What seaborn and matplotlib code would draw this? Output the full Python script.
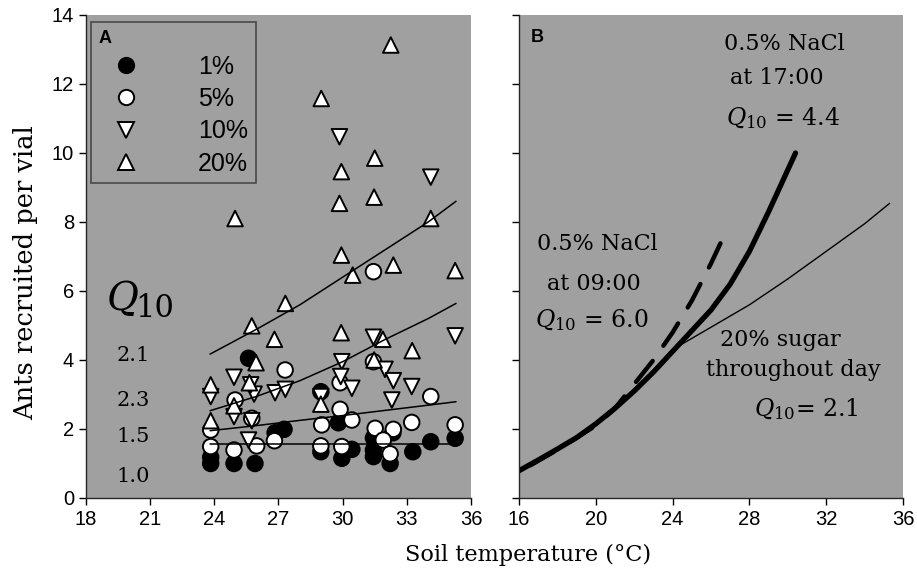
import pandas as pd
import seaborn as sns
import matplotlib.pyplot as plt
from matplotlib.lines import Line2D

# Panel A (temperatura do solo, formigas por frasco)
x_1 = [23.83, 23.83, 24.92, 25.9, 25.6, 28.98, 27.26, 26.84, 29.8, 28.98, 29.96, 30.43,
       31.44, 31.44, 31.44, 32.22, 32.35, 33.28, 34.12, 35.26]
y_1 = [1.18, 1.0, 1.0, 1.0, 4.05, 3.08, 1.99, 1.89, 2.18, 1.34, 1.15, 1.41,
       1.39, 1.2, 1.74, 1.0, 1.89, 1.34, 1.63, 1.73]

x_5 = [31.44, 27.31, 31.44, 29.88, 34.12, 24.97, 29.88, 30.43, 25.75, 29.02, 31.52, 32.37,
       33.23, 35.26, 23.83, 23.83, 24.92, 25.98, 26.81, 28.98, 29.96, 31.9, 32.22]
y_5 = [6.56, 3.71, 3.95, 3.34, 2.94, 2.84, 2.57, 2.26, 2.31, 2.12, 2.02, 1.99,
       2.19, 2.12, 1.97, 1.49, 1.39, 1.51, 1.66, 1.51, 1.49, 1.68, 1.28]

x_10 = [29.85, 34.12, 31.44, 35.26, 29.96, 31.98, 29.91, 32.37, 30.43, 33.23, 32.3, 24.92,
        23.83, 25.86, 26.84, 27.32, 25.7, 28.98, 24.92, 25.75, 25.6]
y_10 = [10.47, 9.3, 4.66, 4.7, 3.95, 3.73, 3.52, 3.4, 3.18, 3.23, 2.84, 3.5,
        2.94, 3.01, 3.05, 3.15, 3.28, 2.94, 2.36, 2.24, 1.68]

x_20 = [32.25, 29.0, 29.94, 31.5, 29.85, 31.47, 34.12, 24.97, 29.94, 30.47, 32.37, 35.26,
        27.32, 25.75, 26.81, 29.93, 31.88, 33.25, 25.95, 23.83, 25.64, 24.92, 28.98, 23.83, 31.47]
y_20 = [13.13, 11.58, 9.46, 9.85, 8.54, 8.72, 8.1, 8.1, 7.04, 6.46, 6.75, 6.59,
        5.64, 4.99, 4.6, 4.79, 4.6, 4.27, 3.92, 3.28, 3.34, 2.67, 2.72, 2.24, 4.0]

# curvas ajustadas do painel A
fit_x = [23.8, 26.0, 28.0, 30.0, 32.0, 34.0, 35.3]
fit_1 = [1.57, 1.57, 1.57, 1.57, 1.57, 1.57, 1.57]
fit_5 = [1.95, 2.1, 2.25, 2.39, 2.54, 2.69, 2.79]
fit_10 = [2.53, 2.95, 3.4, 3.95, 4.6, 5.2, 5.64]
fit_20 = [4.17, 4.9, 5.6, 6.4, 7.2, 8.0, 8.6]

q10_A = ['2.1', '2.3', '1.5', '1.0']
q10_A_y = [4.12, 2.84, 1.77, 0.61]

# Panel B - curvas
nacl17_x = [16, 17, 18, 19, 20, 21, 22, 23, 24, 25, 26, 27, 28, 29, 30.4]
nacl17_y = [0.79, 1.1, 1.42, 1.75, 2.15, 2.6, 3.1, 3.65, 4.25, 4.85, 5.45, 6.2, 7.15, 8.3, 10.0]
nacl09_x = [16.6, 18, 20, 21, 22, 23, 24, 25, 26, 26.8]
nacl09_y = [0.95, 1.4, 2.1, 2.6, 3.3, 4.0, 4.8, 5.72, 6.8, 7.75]
sugar_x = [16, 18, 20, 22, 24.3, 26, 28, 30, 32, 34, 35.3]
sugar_y = [0.79, 1.42, 2.15, 3.1, 4.4, 4.95, 5.6, 6.35, 7.15, 7.95, 8.54]

groups = ['1%', '5%', '10%', '20%']
df = pd.concat([
    pd.DataFrame({'temp': x_1, 'ants': y_1, 'grupo': '1%'}),
    pd.DataFrame({'temp': x_5, 'ants': y_5, 'grupo': '5%'}),
    pd.DataFrame({'temp': x_10, 'ants': y_10, 'grupo': '10%'}),
    pd.DataFrame({'temp': x_20, 'ants': y_20, 'grupo': '20%'}),
], ignore_index=True)

fits = pd.concat([
    pd.DataFrame({'temp': fit_x, 'ants': f, 'grupo': g})
    for g, f in zip(groups, [fit_1, fit_5, fit_10, fit_20])
], ignore_index=True)

sns.set_style('ticks')
plt.rcParams['font.family'] = ['Liberation Sans', 'DejaVu Sans']
plt.rcParams['mathtext.fontset'] = 'dejavuserif'
plt.rcParams['text.color'] = 'black'
plt.rcParams['axes.labelcolor'] = 'black'
plt.rcParams['xtick.color'] = 'black'
plt.rcParams['ytick.color'] = 'black'
gray = '#a0a0a0'
serif = 'DejaVu Serif'

fig = plt.figure(figsize=(9.17, 5.72), dpi=100)
axA = fig.add_axes([0.0938, 0.1294, 0.4198, 0.8444])
axB = fig.add_axes([0.566, 0.1294, 0.4188, 0.8444])

palette = {'1%': 'black', '5%': 'white', '10%': 'white', '20%': 'white'}
markers = {'1%': 'o', '5%': 'o', '10%': 'v', '20%': '^'}

sns.scatterplot(data=df, x='temp', y='ants', hue='grupo', style='grupo',
                palette=palette, markers=markers, hue_order=groups, style_order=groups,
                s=125, edgecolor='black', linewidth=1.4, legend=False, ax=axA, zorder=3)
sns.lineplot(data=fits, x='temp', y='ants', units='grupo', estimator=None,
             color='black', linewidth=1.1, ax=axA, zorder=4)

handles = [Line2D([], [], linestyle='none', marker=markers[g], markersize=11,
                  markerfacecolor=palette[g], markeredgecolor='black', markeredgewidth=1.4)
           for g in groups]
leg = axA.legend(handles, groups, title='A', loc='upper left', bbox_to_anchor=(0.012, 0.985),
                 frameon=True, fancybox=False, facecolor=gray, edgecolor='#333333',
                 fontsize=18, handletextpad=1.8, labelspacing=0.33, borderpad=0.3,
                 borderaxespad=0, handlelength=2.2)
leg.get_frame().set_linewidth(1.2)
leg.get_title().set_fontweight('bold')
leg.get_title().set_fontsize(13)
leg._legend_box.align = 'left'

axA.text(19.73, 5.74, 'Q', family=serif, style='italic', fontsize=28, ha='center', va='center')
axA.text(21.2, 5.5, '10', family=serif, fontsize=22, ha='center', va='center')
for lab, yy in zip(q10_A, q10_A_y):
    axA.text(20.2, yy, lab, family=serif, fontsize=15, ha='center', va='center')

axA.set_xlim(18, 36)
axA.set_ylim(0, 14)
axA.set_xticks(range(18, 37, 3))
axA.set_yticks(range(0, 15, 2))
axA.set_xlabel('')
axA.set_ylabel('Ants recruited per vial', family=serif, fontsize=18.5)
axA.yaxis.set_label_coords(-0.125, 0.466)

sns.lineplot(x=sugar_x, y=sugar_y, color='black', linewidth=1.0, ax=axB)
sns.lineplot(x=nacl09_x, y=nacl09_y, color='black', linewidth=3.2, ax=axB)
dashed = axB.lines[-1]
dashed.set_dashes((6, 4.2))
dashed.set_dash_capstyle('round')
sns.lineplot(x=nacl17_x, y=nacl17_y, color='black', linewidth=3.8, ax=axB)
axB.lines[-1].set_solid_capstyle('round')

axB.text(16.6, 13.36, 'B', fontweight='bold', fontsize=13, ha='left', va='center')
axB.text(29.8, 13.16, '0.5% NaCl', family=serif, fontsize=16, ha='center', va='center')
axB.text(29.44, 12.17, 'at 17:00', family=serif, fontsize=16, ha='center', va='center')
axB.text(29.75, 11.0, '$Q_{10}$ = 4.4', family=serif, fontsize=17, ha='center', va='center')
axB.text(20.1, 7.36, '0.5% NaCl', family=serif, fontsize=16, ha='center', va='center')
axB.text(19.9, 6.2, 'at 09:00', family=serif, fontsize=16, ha='center', va='center')
axB.text(19.8, 5.16, '$Q_{10}$ = 6.0', family=serif, fontsize=17, ha='center', va='center')
axB.text(29.6, 4.58, '20% sugar', family=serif, fontsize=16, ha='center', va='center')
axB.text(30.3, 3.71, 'throughout day', family=serif, fontsize=16, ha='center', va='center')
axB.text(30.95, 2.58, '$Q_{10}$= 2.1', family=serif, fontsize=17, ha='center', va='center')

axB.set_xlim(16, 36)
axB.set_ylim(0, 14)
axB.set_xticks(range(16, 37, 4))
axB.set_yticks(range(0, 15, 2))
axB.set_yticklabels([])

for ax in (axA, axB):
    ax.set_facecolor(gray)
    sns.despine(ax=ax)
    ax.spines['left'].set_linewidth(1.0)
    ax.spines['bottom'].set_linewidth(1.0)
    ax.tick_params(direction='out', length=5, width=1.0, labelsize=14.5, color='black')

fig.text(0.576, 0.03, 'Soil temperature (°C)', family=serif, fontsize=16.2, ha='center', va='center')

plt.savefig('out.png', dpi=100)
